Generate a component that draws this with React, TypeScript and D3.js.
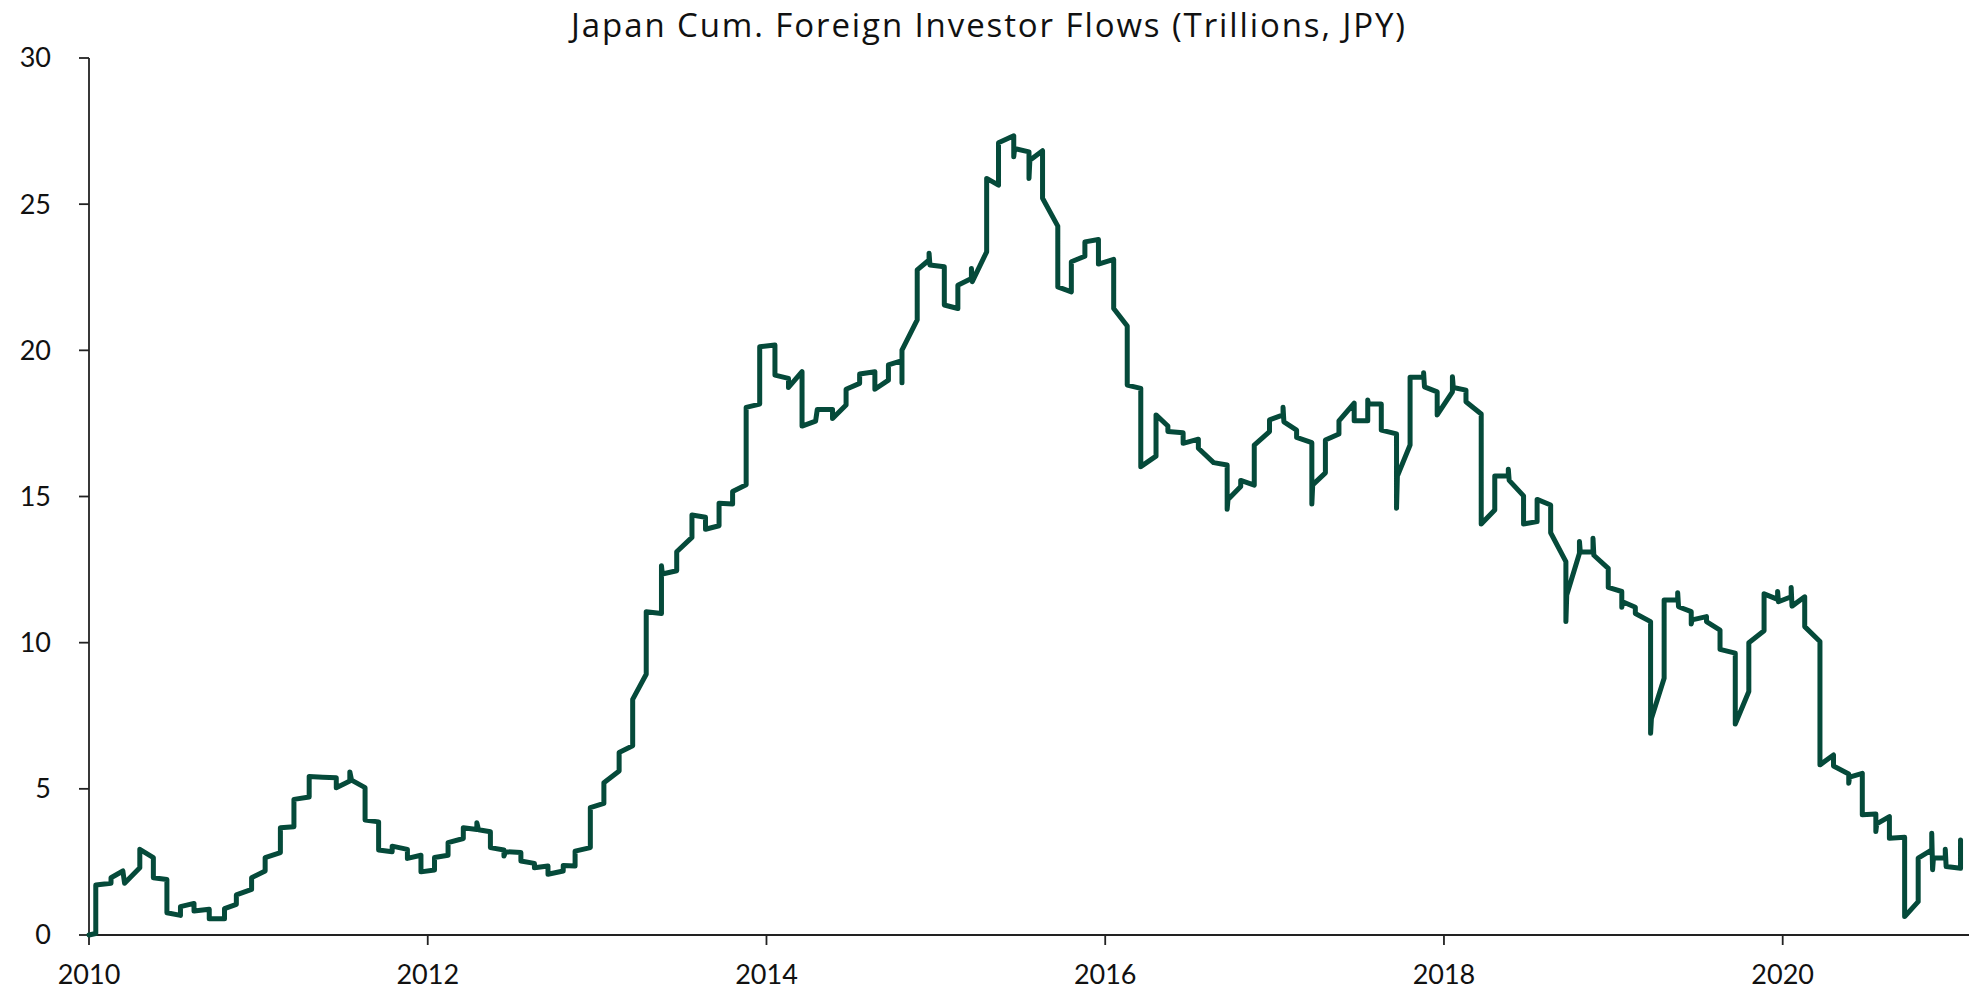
import React from "react";
import * as d3 from "d3";

const chartTitle = "Japan Cum. Foreign Investor Flows (Trillions, JPY)";

const years: number[] = [
  2010.00, 2010.04, 2010.04, 2010.13, 2010.13, 2010.20, 2010.21, 2010.30, 2010.30, 2010.38,
  2010.38, 2010.46, 2010.46, 2010.54, 2010.54, 2010.62, 2010.62, 2010.71, 2010.71, 2010.80,
  2010.80, 2010.87, 2010.87, 2010.96, 2010.96, 2011.04, 2011.04, 2011.13, 2011.13, 2011.21,
  2011.21, 2011.30, 2011.30, 2011.38, 2011.46, 2011.46, 2011.54, 2011.54, 2011.55, 2011.63,
  2011.63, 2011.71, 2011.71, 2011.79, 2011.79, 2011.88, 2011.88, 2011.96, 2011.96, 2012.04,
  2012.04, 2012.12, 2012.12, 2012.21, 2012.21, 2012.29, 2012.29, 2012.30, 2012.37, 2012.37,
  2012.45, 2012.45, 2012.46, 2012.55, 2012.55, 2012.63, 2012.63, 2012.71, 2012.71, 2012.80,
  2012.80, 2012.87, 2012.87, 2012.96, 2012.96, 2013.04, 2013.04, 2013.13, 2013.13, 2013.21,
  2013.21, 2013.29, 2013.29, 2013.38, 2013.38, 2013.385, 2013.47, 2013.47, 2013.56, 2013.56,
  2013.64, 2013.64, 2013.72, 2013.72, 2013.80, 2013.80, 2013.88, 2013.88, 2013.96, 2013.96,
  2014.05, 2014.05, 2014.13, 2014.13, 2014.21, 2014.21, 2014.29, 2014.30, 2014.39, 2014.39,
  2014.47, 2014.47, 2014.55, 2014.55, 2014.64, 2014.64, 2014.72, 2014.72, 2014.80, 2014.80,
  2014.80, 2014.89, 2014.89, 2014.96, 2014.96, 2014.965, 2015.05, 2015.05, 2015.13, 2015.13,
  2015.21, 2015.21, 2015.215, 2015.30, 2015.30, 2015.37, 2015.37, 2015.46, 2015.46, 2015.465,
  2015.55, 2015.55, 2015.555, 2015.63, 2015.63, 2015.72, 2015.72, 2015.80, 2015.80, 2015.88,
  2015.88, 2015.96, 2015.96, 2016.05, 2016.05, 2016.13, 2016.13, 2016.21, 2016.21, 2016.30,
  2016.30, 2016.37, 2016.37, 2016.46, 2016.46, 2016.55, 2016.55, 2016.64, 2016.72, 2016.72,
  2016.725, 2016.80, 2016.80, 2016.88, 2016.88, 2016.97, 2016.97, 2017.05, 2017.05, 2017.055,
  2017.13, 2017.13, 2017.22, 2017.22, 2017.225, 2017.30, 2017.30, 2017.38, 2017.38, 2017.47,
  2017.47, 2017.55, 2017.55, 2017.555, 2017.63, 2017.63, 2017.72, 2017.72, 2017.725, 2017.80,
  2017.80, 2017.88, 2017.88, 2017.885, 2017.96, 2017.96, 2018.05, 2018.05, 2018.055, 2018.13,
  2018.13, 2018.22, 2018.22, 2018.30, 2018.30, 2018.38, 2018.38, 2018.385, 2018.47, 2018.47,
  2018.55, 2018.55, 2018.63, 2018.63, 2018.72, 2018.72, 2018.725, 2018.80, 2018.80, 2018.805,
  2018.88, 2018.88, 2018.885, 2018.97, 2018.97, 2019.05, 2019.05, 2019.055, 2019.13, 2019.13,
  2019.22, 2019.22, 2019.225, 2019.30, 2019.30, 2019.38, 2019.38, 2019.385, 2019.46, 2019.46,
  2019.465, 2019.55, 2019.55, 2019.63, 2019.63, 2019.72, 2019.72, 2019.80, 2019.80, 2019.89,
  2019.89, 2019.97, 2019.97, 2019.975, 2020.05, 2020.05, 2020.055, 2020.13, 2020.13, 2020.22,
  2020.22, 2020.30, 2020.30, 2020.39, 2020.39, 2020.395, 2020.47, 2020.47, 2020.55, 2020.55,
  2020.555, 2020.63, 2020.63, 2020.72, 2020.72, 2020.80, 2020.80, 2020.88, 2020.88, 2020.885,
  2020.89, 2020.96, 2020.96, 2020.965, 2021.05, 2021.05,
];

const flows: number[] = [
  0.0, 0.05, 1.71, 1.77, 1.96, 2.19, 1.77, 2.3, 2.93, 2.65,
  1.96, 1.9, 0.76, 0.67, 0.97, 1.08, 0.82, 0.88, 0.56, 0.56,
  0.9, 1.05, 1.37, 1.56, 1.96, 2.19, 2.65, 2.82, 3.67, 3.7,
  4.64, 4.72, 5.42, 5.4, 5.38, 5.04, 5.27, 5.58, 5.3, 5.04,
  3.93, 3.87, 2.91, 2.85, 3.04, 2.93, 2.62, 2.73, 2.16, 2.22,
  2.65, 2.73, 3.16, 3.3, 3.67, 3.61, 3.84, 3.6, 3.53, 2.99,
  2.91, 2.7, 2.85, 2.82, 2.53, 2.45, 2.3, 2.36, 2.08, 2.19,
  2.38, 2.36, 2.87, 2.99, 4.36, 4.5, 5.21, 5.61, 6.24, 6.47,
  8.06, 8.92, 11.06, 11.0, 12.63, 12.35, 12.46, 13.11, 13.6, 14.37,
  14.29, 13.88, 14.0, 14.77, 14.74, 15.17, 15.4, 18.05, 18.16, 20.12,
  20.18, 19.15, 19.04, 18.73, 19.27, 17.41, 17.58, 17.98, 17.98, 17.67,
  18.13, 18.67, 18.87, 19.19, 19.27, 18.67, 18.98, 19.5, 19.65, 18.89,
  20.01, 21.04, 22.75, 23.09, 23.32, 22.92, 22.86, 21.55, 21.43, 22.23,
  22.46, 22.8, 22.35, 23.37, 25.88, 25.65, 27.1, 27.34, 26.62, 26.9,
  26.79, 25.88, 26.5, 26.83, 25.2, 24.25, 22.17, 22.0, 23.03, 23.22,
  23.71, 23.79, 22.95, 23.11, 21.43, 20.83, 18.81, 18.7, 16.02, 16.38,
  17.79, 17.41, 17.22, 17.18, 16.82, 16.96, 16.65, 16.16, 16.08, 14.56,
  14.9, 15.34, 15.55, 15.39, 16.76, 17.22, 17.62, 17.79, 18.05, 17.55,
  17.27, 17.02, 16.84, 14.74, 15.4, 15.81, 16.93, 17.14, 17.59, 18.19,
  17.59, 17.59, 18.3, 18.17, 18.16, 17.27, 17.14, 14.6, 15.7, 16.76,
  19.08, 19.08, 19.23, 18.75, 18.58, 17.79, 18.58, 19.1, 18.73, 18.64,
  18.24, 17.82, 14.06, 14.54, 15.7, 15.7, 15.93, 15.55, 15.02, 14.06,
  14.14, 14.9, 14.71, 13.76, 12.77, 10.72, 11.63, 13.06, 13.46, 13.1,
  13.11, 13.57, 12.99, 12.54, 11.89, 11.75, 11.21, 11.4, 11.21, 11.0,
  10.72, 6.9, 7.41, 8.78, 11.46, 11.46, 11.71, 11.23, 11.06, 10.64,
  10.78, 10.89, 10.72, 10.43, 9.77, 9.64, 7.22, 8.33, 10.0, 10.41,
  11.67, 11.48, 11.75, 11.4, 11.57, 11.89, 11.25, 11.57, 10.55, 10.04,
  5.82, 6.16, 5.78, 5.51, 5.19, 5.4, 5.53, 4.11, 4.14, 3.54,
  3.8, 4.05, 3.31, 3.34, 0.63, 1.14, 2.63, 2.91, 3.48, 2.23,
  2.63, 2.63, 2.93, 2.34, 2.28, 3.25,
];

const yTicks: number[] = [0, 5, 10, 15, 20, 25, 30];
const xTicks: number[] = [2010, 2012, 2014, 2016, 2018, 2020];

const W = 1976;
const H = 990;
const M = { left: 89, right: 1969, top: 58, bottom: 935 };
const FONT = "Lato, 'Open Sans', sans-serif";
const TITLE_FONT = "'Open Sans', Lato, sans-serif";
const LINE_COLOR = "#054a3a";
const AXIS_COLOR = "#222";

export default function App() {
  const x = d3.scaleLinear().domain([2010, 2021.1]).range([M.left, M.right]);
  const y = d3.scaleLinear().domain([0, 30]).range([M.bottom, M.top]);
  const pts: [number, number][] = years.map((yr, i) => [yr, flows[i]]);
  const line = d3
    .line<[number, number]>()
    .x((d) => x(d[0]))
    .y((d) => y(d[1]));

  return (
    <div style={{ position: "absolute", left: 0, top: 0 }}>
      <svg width={W} height={H} style={{ display: "block", background: "#fff" }}>
        <text
          x={989}
          y={37}
          textAnchor="middle"
          fontFamily={TITLE_FONT}
          fontSize={33}
          letterSpacing={1.9}
          fill="#111"
        >
          {chartTitle}
        </text>
        {/* y axis */}
        <line x1={x(2010)} x2={x(2010)} y1={y(30)} y2={y(0)} stroke={AXIS_COLOR} strokeWidth={1.8} />
        {yTicks.map((t) => (
          <g key={"y" + t}>
            <line x1={x(2010) - 10} x2={x(2010)} y1={y(t)} y2={y(t)} stroke={AXIS_COLOR} strokeWidth={1.8} />
            <text
              x={51}
              y={y(t)}
              dy="0.35em"
              textAnchor="end"
              fontFamily={FONT}
              fontSize={27}
              fill="#111"
            >
              {t}
            </text>
          </g>
        ))}
        {/* x axis */}
        <line x1={x(2010)} x2={M.right} y1={y(0)} y2={y(0)} stroke={AXIS_COLOR} strokeWidth={1.8} />
        {xTicks.map((t) => (
          <g key={"x" + t}>
            <line x1={x(t)} x2={x(t)} y1={y(0)} y2={y(0) + 10} stroke={AXIS_COLOR} strokeWidth={1.8} />
            <text
              x={x(t)}
              y={984}
              textAnchor="middle"
              fontFamily={FONT}
              fontSize={27}
              fill="#111"
            >
              {t}
            </text>
          </g>
        ))}
        <path
          d={line(pts) || ""}
          fill="none"
          stroke={LINE_COLOR}
          strokeWidth={5}
          strokeLinejoin="round"
          strokeLinecap="round"
        />
      </svg>
    </div>
  );
}
